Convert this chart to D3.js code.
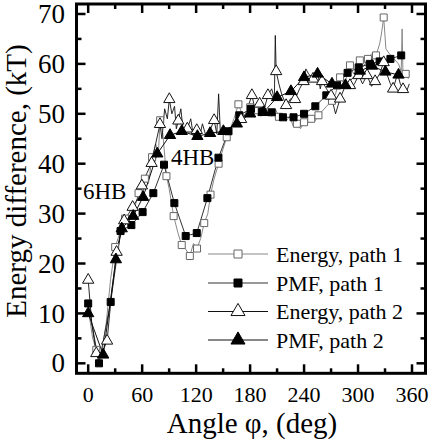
<!DOCTYPE html>
<html><head><meta charset="utf-8">
<script src="https://cdnjs.cloudflare.com/ajax/libs/d3/7.8.5/d3.min.js"></script>
<style>body{margin:0;background:#fff}svg{display:block}</style>
</head><body><svg id="c" width="433" height="447"></svg>
<script>
// ---- data ----
const xTicks = [0, 60, 120, 180, 240, 300, 360];
const yTicks = [0, 10, 20, 30, 40, 50, 60, 70];
const seriesNames = ["Energy, path 1", "PMF, path 1", "Energy, path 2", "PMF, path 2"];

// marker points (angle, value)
const energy1Angle = [9, 30, 41, 56, 63, 71, 80, 87, 95, 104, 113, 121, 129, 136, 145, 154, 167, 180, 188, 212, 232, 240, 248, 256, 271, 280, 291, 302, 311, 320, 328.5, 353];
const energy1Value = [2.7, 23.3, 29, 34.1, 37, 41.3, 48.7, 37.5, 29.5, 23.7, 21.5, 23, 28.1, 33.8, 40, 45.3, 51.9, 51.3, 50.7, 49.4, 48, 48.3, 49, 49.7, 52.6, 57.3, 59.7, 60.7, 61, 61.7, 69.3, 58];

const pmf1Angle = [0, 12, 25, 36, 48, 60.5, 72.4, 84.3, 95.8, 108.4, 120.7, 132.5, 144.8, 156, 168, 181, 193, 204, 216.5, 228.3, 240, 252.5, 264.7, 276.6, 288.4, 300.7, 313, 324, 336, 348];
const pmf1Value = [12, 0, 12.3, 26.5, 27.7, 30.3, 34.1, 39.8, 32.1, 25.5, 26.1, 33.1, 41.2, 46.5, 49.7, 51, 50.4, 50.3, 49.3, 49.3, 50, 51.5, 53.7, 55.7, 58.2, 59.3, 60, 60.5, 61, 61.7];

const energy2Angle = [0, 9, 21, 31.6, 40, 49.4, 59.7, 70.5, 79.8, 90.2, 100.2, 110.2, 120.7, 140, 170, 182, 190.6, 199.8, 209, 220, 230, 239.5, 250, 260, 270, 280, 291, 300.7, 310, 319, 328.5, 339, 350];
const energy2Value = [16.7, 2, 4.5, 22.3, 28.6, 31.3, 35.6, 40.1, 47.9, 52.9, 48.6, 47, 46.7, 48.7, 48.9, 53.7, 52, 53.7, 58.5, 51.7, 52.9, 56.5, 57, 56.5, 53.6, 53, 55.7, 57.7, 57.7, 56.5, 60.3, 55, 54.9];

const pmf2Angle = [0, 16.7, 30.8, 37.3, 50, 61, 76.8, 91, 104, 121.4, 135.5, 150.3, 165.3, 180, 195, 210, 225.4, 240, 255, 271, 286, 302, 315.6, 330.4, 345];
const pmf2Value = [10, 1.7, 20.8, 27, 29.5, 33.3, 42, 45.7, 46.5, 45.5, 46.1, 46.5, 48, 50, 50.3, 53.3, 54.5, 57.3, 58, 56, 55.7, 58.6, 59.6, 58.4, 57.8];

// dense noisy energy traces (angle, value)
const trace1Angle = [0, 5, 9, 15, 20, 25, 30, 35, 41, 45, 50, 56, 60, 63, 67, 71, 75, 78, 80, 83, 87, 90, 95, 100, 104, 108, 113, 117, 121, 125, 129, 133, 136, 140, 145, 150, 154, 158, 162, 167, 171, 175, 180, 184, 188, 192, 196, 200, 204, 208, 212, 216, 220, 224, 228, 232, 236, 240, 244, 248, 252, 256, 260, 265, 271, 275, 280, 285, 291, 295, 302, 306, 311, 315, 320, 324, 326, 328.5, 331, 335, 340, 345, 348, 349, 350, 353, 356];
const trace1Value = [11, 5, 2.7, 2, 8, 17, 23.3, 26, 29, 28.5, 30, 34.1, 33, 37, 36, 41.3, 44, 42, 48.7, 46, 37.5, 35, 29.5, 26, 23.7, 23, 21.5, 24, 23, 25, 28.1, 30, 33.8, 37, 40, 43, 45.3, 47, 49, 51.9, 50, 49.5, 51.3, 50, 50.7, 49.5, 51, 50.5, 49.5, 51, 49.4, 50, 48.5, 49.5, 47.5, 48, 47, 48.3, 49, 49, 48.5, 49.7, 50.5, 51.5, 52.6, 54, 57.3, 56, 59.7, 58, 60.7, 59.5, 61, 62, 61.7, 64, 66, 69.3, 63, 62, 61, 60, 58.5, 67, 57.5, 58, 57];

const trace2Angle = [0, 4, 9, 14, 21, 26, 31.6, 36, 40, 45, 49.4, 55, 59.7, 65, 70.5, 75, 79.8, 82, 85, 88, 90.2, 93, 96, 98, 100.2, 103, 106, 110.2, 114, 117, 120.7, 124, 127, 131, 135, 140, 143, 145, 147, 150, 155, 160, 165, 170, 175, 182, 186, 190.6, 195, 199.8, 204, 207, 208, 209, 212, 215, 220, 225, 230, 235, 239.5, 242, 245, 250, 255, 258, 260, 265, 270, 275, 280, 286, 291, 296, 300.7, 305, 310, 315, 319, 324, 328.5, 332, 336, 339, 344, 347, 350, 354, 357];
const trace2Value = [16.7, 8, 2, 1.5, 4.5, 14, 22.3, 26, 28.6, 30, 31.3, 33, 35.6, 38, 40.1, 44, 47.9, 45, 51, 49, 52.9, 50, 51.5, 47, 48.6, 51, 46, 47, 49, 45.5, 46.7, 45.5, 48, 45.5, 46.5, 48.7, 46, 54, 46, 47.5, 46, 47.5, 48, 48.9, 50, 53.7, 50.5, 52, 50.5, 53.7, 55, 53, 65.7, 58.5, 56, 54, 51.7, 53, 52.9, 55, 56.5, 59, 58, 57, 58.5, 55, 56.5, 55, 53.6, 50, 53, 55.7, 55, 56, 57.7, 56, 57.7, 55.5, 56.5, 58, 60.3, 58, 56, 55, 58, 56, 54.9, 54.5, 56];

// ---- layout ----
const svg = d3.select("#c");
const L = 76.5, R = 425.5, T = 4, B = 373.3;
const x = d3.scaleLinear().domain([-13, 375]).range([L, R]);
const y = d3.scaleLinear().domain([-2, 72]).range([B, T]);
const FONT = "'Liberation Serif', 'Times New Roman', serif";

const zip = (a, b) => a.map((v, i) => [v, b[i]]);
const line = d3.line().x(d => x(d[0])).y(d => y(d[1]));

svg.append("clipPath").attr("id", "pc").append("rect")
  .attr("x", L).attr("y", T).attr("width", R - L).attr("height", B - T);
const plot = svg.append("g").attr("clip-path", "url(#pc)");

// traces
plot.append("path").datum(zip(trace1Angle, trace1Value)).attr("d", line)
  .attr("fill", "none").attr("stroke", "#888").attr("stroke-width", 1);
plot.append("path").datum(zip(pmf1Angle, pmf1Value)).attr("d", line)
  .attr("fill", "none").attr("stroke", "#333").attr("stroke-width", 1);
plot.append("path").datum(zip(trace2Angle, trace2Value)).attr("d", line)
  .attr("fill", "none").attr("stroke", "#111").attr("stroke-width", 0.9);
plot.append("path").datum(zip(pmf2Angle, pmf2Value)).attr("d", line)
  .attr("fill", "none").attr("stroke", "#111").attr("stroke-width", 1);

const sq = d3.symbol().type(d3.symbolSquare).size(49);
const tri = d3.symbol().type(d3.symbolTriangle).size(55);

function markers(ang, val, sym, fill, stroke) {
  plot.append("g").selectAll("path").data(zip(ang, val)).join("path")
    .attr("d", sym)
    .attr("transform", d => `translate(${x(d[0])},${y(d[1])})`)
    .attr("fill", fill).attr("stroke", stroke).attr("stroke-width", 1);
}
markers(energy1Angle, energy1Value, sq, "#fff", "#666");
markers(pmf1Angle, pmf1Value, sq, "#000", "#000");
markers(energy2Angle, energy2Value, tri, "#fff", "#111");
markers(pmf2Angle, pmf2Value, tri, "#000", "#000");

// frame + ticks
const ax = svg.append("g");
ax.append("rect").attr("x", L).attr("y", T).attr("width", R - L).attr("height", B - T)
  .attr("fill", "none").attr("stroke", "#000").attr("stroke-width", 3);

const xMinor = d3.range(30, 360, 60);
const yMinor = d3.range(5, 70, 10);
function tickLines(vals, len) {
  vals.forEach(v => {
    const px = x(v);
    ax.append("line").attr("x1", px).attr("x2", px).attr("y1", B).attr("y2", B - len).attr("stroke", "#000").attr("stroke-width", 2.5);
    ax.append("line").attr("x1", px).attr("x2", px).attr("y1", T).attr("y2", T + len).attr("stroke", "#000").attr("stroke-width", 2.5);
  });
}
function tickLinesY(vals, len) {
  vals.forEach(v => {
    const py = y(v);
    ax.append("line").attr("y1", py).attr("y2", py).attr("x1", L).attr("x2", L + len).attr("stroke", "#000").attr("stroke-width", 2.5);
    ax.append("line").attr("y1", py).attr("y2", py).attr("x1", R).attr("x2", R - len).attr("stroke", "#000").attr("stroke-width", 2.5);
  });
}
tickLines(xTicks, 9); tickLines(xMinor, 5);
tickLinesY(yTicks, 9); tickLinesY(yMinor, 5);

// tick labels
ax.selectAll("text.xt").data(xTicks).join("text").attr("class", "xt")
  .attr("x", d => x(d)).attr("y", 402).attr("text-anchor", "middle")
  .attr("font-family", FONT).attr("font-size", 22).text(d => d);
ax.selectAll("text.yt").data(yTicks).join("text").attr("class", "yt")
  .attr("x", 65).attr("y", d => y(d)).attr("dy", "0.34em").attr("text-anchor", "end")
  .attr("font-family", FONT).attr("font-size", 27).text(d => d);

// axis titles
svg.append("text").attr("x", 252).attr("y", 433).attr("text-anchor", "middle")
  .attr("font-family", FONT).attr("font-size", 29).text("Angle φ, (deg)");
svg.append("text").attr("transform", "translate(26,181) rotate(-90)").attr("text-anchor", "middle")
  .attr("font-family", FONT).attr("font-size", 29).text("Energy difference, (kT)");

// annotations
svg.append("text").attr("x", 83).attr("y", 199).attr("font-family", FONT).attr("font-size", 23).text("6HB");
svg.append("text").attr("x", 171).attr("y", 165).attr("font-family", FONT).attr("font-size", 23).text("4HB");

// legend
const legY = [254, 283, 311.5, 340];
const legSym = [d3.symbol().type(d3.symbolSquare).size(64), d3.symbol().type(d3.symbolSquare).size(64),
                d3.symbol().type(d3.symbolTriangle).size(85), d3.symbol().type(d3.symbolTriangle).size(85)];
const legFill = ["#fff", "#000", "#fff", "#000"];
const legStroke = ["#666", "#000", "#111", "#000"];
const legLine = ["#888", "#333", "#111", "#111"];
seriesNames.forEach((name, i) => {
  const g = svg.append("g");
  g.append("line").attr("x1", 208).attr("x2", 268).attr("y1", legY[i]).attr("y2", legY[i])
    .attr("stroke", legLine[i]).attr("stroke-width", 1);
  g.append("path").attr("d", legSym[i]).attr("transform", `translate(238,${legY[i]})`)
    .attr("fill", legFill[i]).attr("stroke", legStroke[i]).attr("stroke-width", 1);
  g.append("text").attr("x", 276).attr("y", legY[i]).attr("dy", "0.35em")
    .attr("font-family", FONT).attr("font-size", 22).text(name);
});
</script></body></html>
